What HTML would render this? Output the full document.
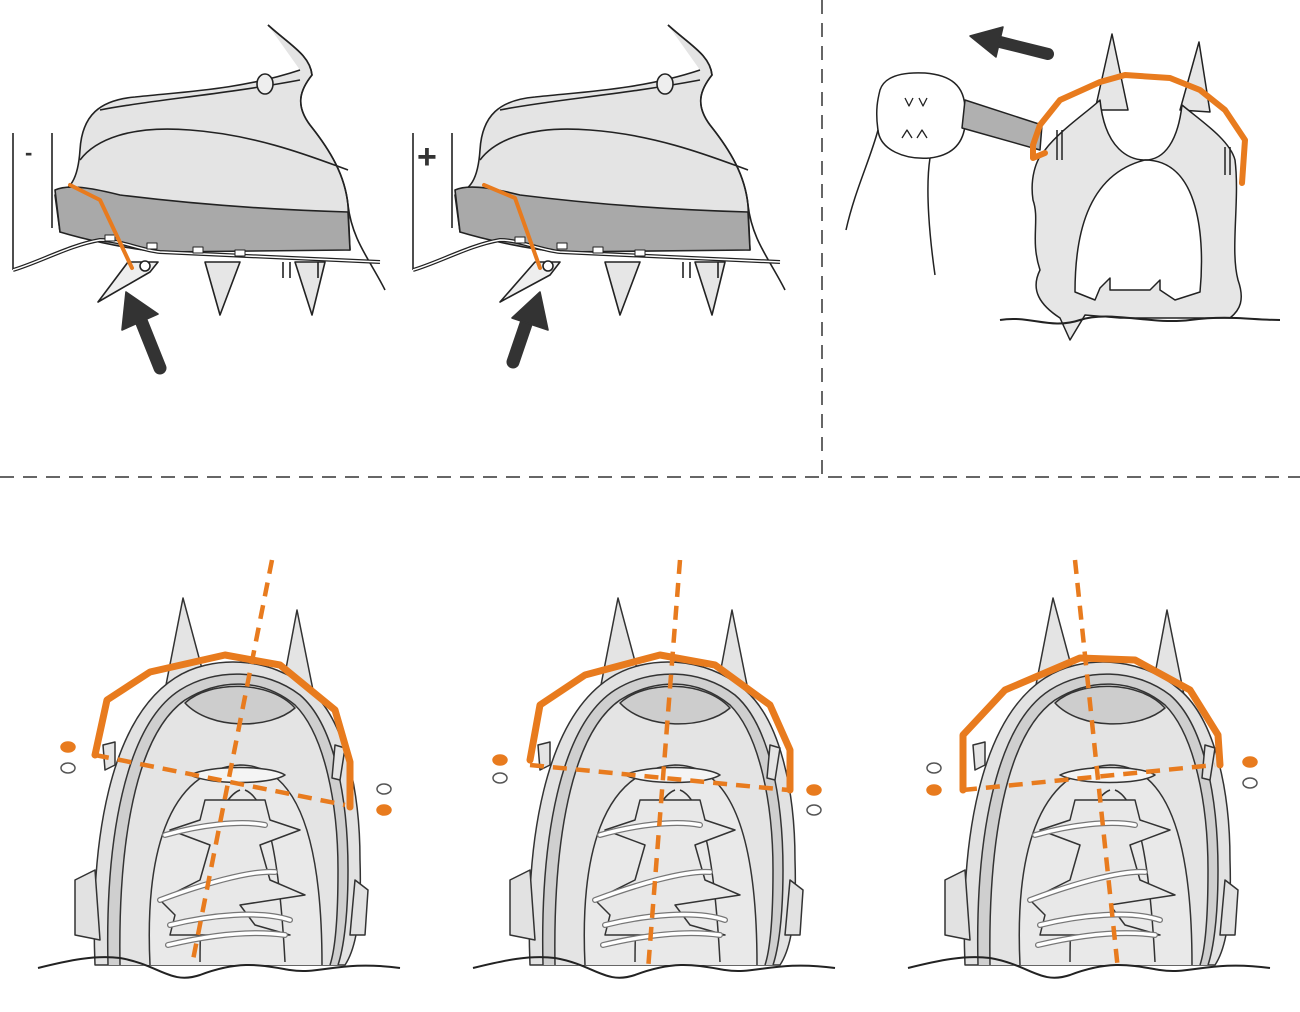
<!DOCTYPE html>
<html><head><meta charset="utf-8"><style>html,body{margin:0;padding:0;background:#fff}svg{display:block}</style></head>
<body>
<svg width="1300" height="1012" viewBox="0 0 1300 1012" xmlns="http://www.w3.org/2000/svg">
<defs>
<g id="side" stroke="#222" stroke-width="1.6" stroke-linejoin="round">
  <path d="M13,133 V270 M52,133 V228" fill="none"/>
  <path d="M268,25 C290,45 310,55 312,75 C300,90 295,105 310,125 C330,150 345,175 348,205 L350,250 L60,232 L55,195 C70,190 78,180 80,150 C82,115 100,100 135,97 C180,92 240,90 300,70" fill="#e4e4e4"/>
  <path d="M80,160 C95,140 130,125 190,130 C260,135 320,160 348,170" fill="none"/>
  <path d="M100,110 C150,100 220,95 300,80" fill="none"/>
  <path d="M55,190 C70,183 100,190 120,195 C200,205 280,210 348,212 L350,250 L160,252 C120,248 80,238 60,232 Z" fill="#a9a9a9"/>
  <ellipse cx="265" cy="84" rx="8" ry="10" fill="#eee"/>
  <path d="M268,25 C290,45 310,55 312,75 C300,90 295,105 310,125 C330,150 345,175 348,205 C352,240 370,260 385,290" fill="none"/>
  <path d="M13,270 C40,262 70,245 100,240 C120,240 140,250 160,252 L380,262" fill="none" stroke-width="4"/>
  <path d="M13,270 C40,262 70,245 100,240 C120,240 140,250 160,252 L380,262" fill="none" stroke="#fff" stroke-width="1.5"/>
  <rect x="105" y="235" width="10" height="6" fill="#fff" stroke-width="1"/>
  <rect x="147" y="243" width="10" height="6" fill="#fff" stroke-width="1"/>
  <rect x="193" y="247" width="10" height="6" fill="#fff" stroke-width="1"/>
  <rect x="235" y="250" width="10" height="6" fill="#fff" stroke-width="1"/>
  <path d="M205,262 L220,315 L240,262 Z" fill="#e6e6e6"/>
  <path d="M295,262 L312,315 L325,262 Z" fill="#e6e6e6"/>
  <path d="M283,262 V278 M290,262 V278 M318,262 V278" fill="none"/>
  <path d="M128,262 L98,302 L150,272 L158,262 Z" fill="#eee"/>
  <circle cx="145" cy="266" r="5" fill="#fff"/>
  <path d="M160,368 L140,318" stroke="#333" stroke-width="13" stroke-linecap="round"/>
  <path d="M126,292 L122,330 L158,314 Z" fill="#333" stroke="#333"/>
</g>
<g id="front" stroke="#333" stroke-width="1.5" stroke-linejoin="round">
  <path d="M183,598 L165,690 L205,680 Z" fill="#e4e4e4"/>
  <path d="M297,610 L282,690 L315,700 Z" fill="#e4e4e4"/>
  <path d="M95,965 C90,840 110,720 175,678 C210,655 270,655 310,690 C345,720 360,790 360,860 C362,920 355,950 345,965 Z" fill="#e2e2e2"/>
  <path d="M75,880 L95,870 L100,940 L75,935 Z" fill="#e2e2e2"/>
  <path d="M355,880 L368,890 L365,935 L350,935 Z" fill="#e2e2e2"/>
  <path d="M108,965 C105,840 125,725 180,690 C215,668 265,668 300,695 C335,725 348,800 348,870 C348,920 343,950 338,965" fill="#cfcfcf"/>
  <path d="M120,965 C118,845 135,735 185,700 C220,678 262,678 295,705 C325,735 338,805 338,870 C338,920 335,950 330,965" fill="#e4e4e4"/>
  <path d="M185,703 C210,680 270,680 295,708 C270,730 210,730 185,703 Z" fill="#cdcdcd"/>
  <path d="M150,965 C145,860 165,770 240,765 C305,765 322,860 322,965" fill="#e9e9e9"/>
  <path d="M200,962 C200,870 215,800 240,790 M285,962 C280,870 270,800 245,790" fill="none"/>
  <path d="M190,775 C210,765 270,765 285,775 C270,785 210,785 190,775 Z" fill="#f4f4f4"/>
  <path d="M205,800 L265,800 L270,820 L300,830 L260,845 L270,880 L305,895 L240,905 L255,925 L290,935 L170,935 L175,915 L160,900 L200,880 L210,845 L170,830 L200,820 Z" fill="#e8e8e8"/>
  <path d="M165,835 C200,825 240,820 265,825 M160,900 C200,885 250,870 275,872 M170,925 C210,915 260,910 290,920 M168,945 C210,935 250,930 285,935" fill="none" stroke="#777" stroke-width="6" stroke-linecap="round"/>
  <path d="M165,835 C200,825 240,820 265,825 M160,900 C200,885 250,870 275,872 M170,925 C210,915 260,910 290,920 M168,945 C210,935 250,930 285,935" fill="none" stroke="#fff" stroke-width="3.5" stroke-linecap="round"/>
  <path d="M103,745 L115,742 L115,765 L105,770 Z M335,745 L345,748 L340,780 L332,778 Z" fill="#e4e4e4"/>
  <path d="M38,968 C70,960 95,955 120,958 C160,965 170,985 200,975 C240,960 260,965 290,970 C320,975 340,960 400,968" fill="none" stroke="#222" stroke-width="2"/>
</g>
</defs>
<rect width="1300" height="1012" fill="#fff"/>
<line x1="0" y1="477" x2="1300" y2="477" stroke="#666" stroke-width="2" stroke-dasharray="14,9"/>
<line x1="822" y1="0" x2="822" y2="477" stroke="#666" stroke-width="2" stroke-dasharray="14,9"/>

<use href="#side"/>
<text x="25" y="160" font-family="Liberation Sans,sans-serif" font-size="22" font-weight="bold" fill="#333">-</text>
<path d="M70,185 L100,200 L132,268" fill="none" stroke="#e87b1e" stroke-width="4" stroke-linecap="round" stroke-linejoin="round"/>
<g transform="translate(400,0)">
  <g stroke="#222" stroke-width="1.6" stroke-linejoin="round">
  <path d="M13,133 V270 M52,133 V228" fill="none"/>
  <path d="M268,25 C290,45 310,55 312,75 C300,90 295,105 310,125 C330,150 345,175 348,205 L350,250 L60,232 L55,195 C70,190 78,180 80,150 C82,115 100,100 135,97 C180,92 240,90 300,70" fill="#e4e4e4"/>
  <path d="M80,160 C95,140 130,125 190,130 C260,135 320,160 348,170" fill="none"/>
  <path d="M100,110 C150,100 220,95 300,80" fill="none"/>
  <path d="M55,190 C70,183 100,190 120,195 C200,205 280,210 348,212 L350,250 L160,252 C120,248 80,238 60,232 Z" fill="#a9a9a9"/>
  <ellipse cx="265" cy="84" rx="8" ry="10" fill="#eee"/>
  <path d="M268,25 C290,45 310,55 312,75 C300,90 295,105 310,125 C330,150 345,175 348,205 C352,240 370,260 385,290" fill="none"/>
  <path d="M13,270 C40,262 70,245 100,240 C120,240 140,250 160,252 L380,262" fill="none" stroke-width="4"/>
  <path d="M13,270 C40,262 70,245 100,240 C120,240 140,250 160,252 L380,262" fill="none" stroke="#fff" stroke-width="1.5"/>
  <rect x="115" y="237" width="10" height="6" fill="#fff" stroke-width="1"/>
  <rect x="157" y="243" width="10" height="6" fill="#fff" stroke-width="1"/>
  <rect x="193" y="247" width="10" height="6" fill="#fff" stroke-width="1"/>
  <rect x="235" y="250" width="10" height="6" fill="#fff" stroke-width="1"/>
  <path d="M205,262 L220,315 L240,262 Z" fill="#e6e6e6"/>
  <path d="M295,262 L312,315 L325,262 Z" fill="#e6e6e6"/>
  <path d="M283,262 V278 M290,262 V278 M318,262 V278" fill="none"/>
  <path d="M135,262 L100,302 L150,275 L160,262 Z" fill="#eee"/>
  <circle cx="148" cy="266" r="5" fill="#fff"/>
  <path d="M113,362 L128,318" stroke="#333" stroke-width="13" stroke-linecap="round"/>
  <path d="M140,292 L112,318 L148,330 Z" fill="#333" stroke="#333"/>
  </g>
  <text x="17" y="168" font-family="Liberation Sans,sans-serif" font-size="34" font-weight="bold" fill="#333">+</text>
  <path d="M84,185 L115,198 L140,268" fill="none" stroke="#e87b1e" stroke-width="4" stroke-linecap="round" stroke-linejoin="round"/>
</g>

<g stroke="#222" stroke-width="1.5" stroke-linejoin="round">
  <path d="M1112,34 L1095,110 L1128,110 Z M1199,42 L1180,110 L1210,112 Z" fill="#e6e6e6"/>
  <path d="M1045,150 C1060,130 1090,110 1100,100 C1105,150 1130,160 1145,160 C1165,160 1178,140 1182,105 C1200,120 1230,140 1235,160 C1240,200 1230,250 1238,280 C1245,300 1240,310 1230,318 L1120,318 L1085,315 L1070,340 L1060,318 C1040,305 1030,290 1040,270 C1030,240 1040,220 1033,200 C1030,180 1035,160 1045,150 Z" fill="#e6e6e6"/>
  <path d="M1075,292 C1075,240 1085,175 1145,160 C1200,160 1205,240 1200,292 L1175,300 L1160,290 L1160,280 L1150,290 L1110,290 L1110,278 L1100,288 L1095,300 Z" fill="#fff"/>
  <path d="M1000,320 C1030,315 1050,330 1080,320 C1110,310 1150,325 1190,320 C1230,315 1250,320 1280,320" fill="none" stroke-width="2"/>
  <path d="M1057,130 V160 M1062,130 V160 M1225,147 V175 M1230,147 V175" fill="none"/>
  <path d="M880,90 C885,75 905,72 925,73 C950,75 965,85 965,110 C968,140 955,155 930,158 C905,160 880,150 878,130 C875,110 878,98 880,90 Z" fill="#fff"/>
  <path d="M878,130 C870,160 855,190 846,230 M930,158 C925,190 930,240 935,275" fill="none"/>
  <path d="M965,100 L1042,125 L1040,150 L962,128 Z" fill="#b0b0b0"/>
  <path d="M905,98 l4,8 l4,-8 m6,0 l4,8 l4,-8 M902,138 l5,-8 l5,8 m5,0 l5,-8 l5,8" fill="none" stroke-width="1.3"/>
  <path d="M1048,54 L1000,42" stroke="#333" stroke-width="12" stroke-linecap="round"/>
  <path d="M970,36 L1003,27 L996,57 Z" fill="#333" stroke="#333"/>
</g>
<path d="M1045,153 L1033,158 L1033,145 L1040,125 L1060,100 L1100,82 L1125,75 L1170,78 L1200,90 L1225,110 L1245,140 L1242,183" fill="none" stroke="#e87b1e" stroke-width="6" stroke-linecap="round" stroke-linejoin="round"/>

<use href="#front"/>
<use href="#front" transform="translate(435,0)"/>
<use href="#front" transform="translate(870,0)"/>

<g fill="none" stroke="#e87b1e" stroke-linecap="round" stroke-linejoin="round">
  <path d="M95,755 L107,700 L150,672 L225,655 L280,665 L335,710 L350,762 L350,807" stroke-width="7"/>
  <path d="M272,560 L192,965 M95,755 L345,805" stroke-width="4.5" stroke-dasharray="14,9" stroke-linecap="butt"/>
  <path d="M530,760 L540,705 L585,675 L660,655 L715,665 L770,705 L790,750 L790,790" stroke-width="7"/>
  <path d="M680,560 L648,970 M530,765 L788,790" stroke-width="4.5" stroke-dasharray="14,9" stroke-linecap="butt"/>
  <path d="M963,790 L963,735 L1005,690 L1080,658 L1135,660 L1190,690 L1218,735 L1220,765" stroke-width="7"/>
  <path d="M1075,560 L1118,970 M963,790 L1215,765" stroke-width="4.5" stroke-dasharray="14,9" stroke-linecap="butt"/>
</g>
<g stroke="#e87b1e" stroke-width="1.5">
  <ellipse cx="68" cy="747" rx="7" ry="5" fill="#e87b1e"/>
  <ellipse cx="68" cy="768" rx="7" ry="5" fill="#fff" stroke="#555"/>
  <ellipse cx="384" cy="789" rx="7" ry="5" fill="#fff" stroke="#555"/>
  <ellipse cx="384" cy="810" rx="7" ry="5" fill="#e87b1e"/>
  <ellipse cx="500" cy="760" rx="7" ry="5" fill="#e87b1e"/>
  <ellipse cx="500" cy="778" rx="7" ry="5" fill="#fff" stroke="#555"/>
  <ellipse cx="814" cy="790" rx="7" ry="5" fill="#e87b1e"/>
  <ellipse cx="814" cy="810" rx="7" ry="5" fill="#fff" stroke="#555"/>
  <ellipse cx="934" cy="768" rx="7" ry="5" fill="#fff" stroke="#555"/>
  <ellipse cx="934" cy="790" rx="7" ry="5" fill="#e87b1e"/>
  <ellipse cx="1250" cy="762" rx="7" ry="5" fill="#e87b1e"/>
  <ellipse cx="1250" cy="783" rx="7" ry="5" fill="#fff" stroke="#555"/>
</g>
</svg>
</body></html>
